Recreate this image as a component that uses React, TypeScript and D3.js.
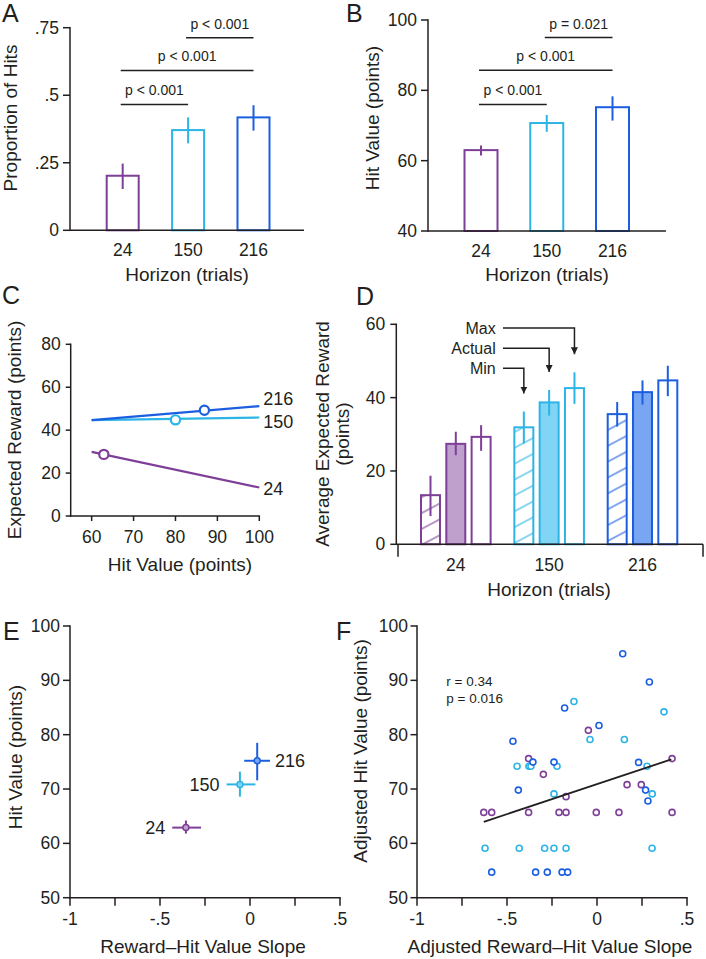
import React from "react";
import * as d3 from "d3";

const FONT = "'Liberation Sans', Arial, Helvetica, sans-serif";
const INK = "#231f20";

// ---------- shared categories ----------
const horizons = ["24", "150", "216"];
const horizonStroke = ["#7e3f98", "#2cb4e6", "#1b5fe0"];
const horizonFill = ["#bf9fcc", "#80d4f4", "#79a6f2"];

// ---------- Panel A ----------
const propHits = [0.202, 0.371, 0.418];
const propHitsLo = [0.153, 0.322, 0.369];
const propHitsHi = [0.247, 0.418, 0.463];
const propTicks = [0, 0.25, 0.5, 0.75];
const propTickLabels = ["0", ".25", ".5", ".75"];
const sigAFrom = ["24", "24", "150"];
const sigATo = ["150", "216", "216"];
const sigALevel = [0.466, 0.592, 0.713];
const sigALabel = ["p < 0.001", "p < 0.001", "p < 0.001"];

// ---------- Panel B ----------
const hitValue = [63.0, 70.7, 75.2];
const hitValueLo = [61.5, 68.2, 71.4];
const hitValueHi = [64.3, 73.0, 78.3];
const hitValueTicks = [40, 60, 80, 100];
const sigBFrom = ["24", "24", "150"];
const sigBTo = ["150", "216", "216"];
const sigBLevel = [76.0, 85.7, 95.0];
const sigBLabel = ["p < 0.001", "p < 0.001", "p = 0.021"];

// ---------- Panel C ----------
const cLineX0 = [60, 60, 60];
const cLineX1 = [100, 100, 100];
const cLineY0 = [29.9, 44.7, 44.7];
const cLineY1 = [13.3, 45.9, 51.2];
const cPointX = [62.9, 80.0, 86.9];
const cPointY = [28.7, 44.8, 49.3];
const cXTicks = [60, 70, 80, 90, 100];
const cYTicks = [0, 20, 40, 60, 80];

// ---------- Panel D ----------
const rewardTypes = ["Min", "Actual", "Max"];
const rewardMin = [13.4, 31.9, 35.5];
const rewardMinLo = [7.7, 27.5, 32.1];
const rewardMinHi = [18.7, 36.2, 38.8];
const rewardActual = [27.4, 38.7, 41.5];
const rewardActualLo = [24.3, 35.1, 38.1];
const rewardActualHi = [30.7, 42.1, 44.7];
const rewardMax = [29.3, 42.6, 44.7];
const rewardMaxLo = [25.5, 38.3, 40.4];
const rewardMaxHi = [32.5, 46.9, 48.7];
const dYTicks = [0, 20, 40, 60];
const annotLevel = [48.0, 53.5, 59.0]; // Min, Actual, Max callout levels
const annotHorizon = "150";

// ---------- Panel E ----------
const eSlope = [-0.356, -0.056, 0.04];
const eSlopeLo = [-0.432, -0.13, -0.032];
const eSlopeHi = [-0.272, 0.03, 0.111];
const eHit = [62.9, 70.85, 75.2];
const eHitLo = [61.8, 68.6, 71.6];
const eHitHi = [64.2, 73.2, 78.5];
const slopeTicks = [-1, -0.75, -0.5, -0.25, 0, 0.25, 0.5];
const slopeTickLabels = ["-1", "", "-.5", "", "0", "", ".5"];
const hvTicks = [50, 60, 70, 80, 90, 100];

// ---------- Panel F ----------
const f24X = [-0.048, -0.38, 0.417, -0.298, 0.167, 0.246, -0.172, -0.629, -0.585, -0.38, -0.211, -0.172, -0.004, 0.122, 0.417];
const f24Y = [80.8, 75.6, 75.6, 72.7, 70.8, 70.8, 68.6, 65.7, 65.7, 65.7, 65.7, 65.7, 65.7, 65.7, 65.7];
const f150X = [-0.128, 0.372, -0.039, 0.152, -0.444, -0.378, -0.367, -0.222, 0.278, -0.239, 0.307, -0.622, -0.432, -0.291, -0.239, -0.172, 0.306];
const f150Y = [86.1, 84.2, 79.1, 79.1, 74.2, 74.2, 74.2, 74.2, 74.2, 69.1, 69.1, 59.1, 59.1, 59.1, 59.1, 59.1, 59.1];
const f216X = [0.143, 0.291, -0.18, 0.011, -0.467, -0.356, -0.239, 0.231, -0.437, 0.27, 0.283, -0.585, -0.341, -0.276, -0.194, -0.163];
const f216Y = [94.9, 89.7, 84.9, 81.7, 78.8, 74.95, 74.95, 74.9, 69.8, 69.8, 67.8, 54.7, 54.7, 54.7, 54.7, 54.7];
const fitIntercept = 70.9;
const fitSlope = 11.03;
const fitRange = [-0.629, 0.413];
const fitStats = ["r = 0.34", "p = 0.016"];

// ---------- helpers ----------
const TICK_FS = 17.5;
const TITLE_FS = 19;

function VAxis({ x, y, ticks, labels, len, gap }: any) {
  const [r0, r1] = y.range();
  return (
    <g>
      <line x1={x} x2={x} y1={r0} y2={r1} stroke={INK} strokeWidth={1.5} strokeLinecap="square" />
      {ticks.map((t: number, i: number) => (
        <g key={i}>
          <line x1={x - len} x2={x} y1={y(t)} y2={y(t)} stroke={INK} strokeWidth={1.5} />
          <text x={x - len - gap} y={y(t)} dy="0.35em" textAnchor="end" fontSize={TICK_FS} fill={INK}>
            {labels ? labels[i] : String(t)}
          </text>
        </g>
      ))}
    </g>
  );
}

function HAxisNum({ y, x, ticks, labels, len, labelY, x0, x1 }: any) {
  const [r0, r1] = x.range();
  return (
    <g>
      <line x1={x0 ?? r0} x2={x1 ?? r1} y1={y} y2={y} stroke={INK} strokeWidth={1.5} strokeLinecap="square" />
      {ticks.map((t: number, i: number) => (
        <g key={i}>
          <line x1={x(t)} x2={x(t)} y1={y} y2={y + len} stroke={INK} strokeWidth={1.5} />
          <text x={x(t)} y={labelY} textAnchor="middle" fontSize={TICK_FS} fill={INK}>
            {labels ? labels[i] : String(t)}
          </text>
        </g>
      ))}
    </g>
  );
}

function VTitle({ x, y, lines }: any) {
  return (
    <g>
      {lines.map((l: string, i: number) => (
        <text key={i} transform={`translate(${x + i * 20},${y}) rotate(-90)`} textAnchor="middle" fontSize={TITLE_FS} fill={INK}>
          {l}
        </text>
      ))}
    </g>
  );
}

function Letter({ x, y, t }: any) {
  return (
    <text x={x} y={y} fontSize={25} fill={INK}>
      {t}
    </text>
  );
}

function BarPanel({ xs, ys, vals, lo, hi, sigFrom, sigTo, sigLevel, sigLabel, axisX0, axisX1, yTicks, yLabels, barW }: any) {
  const base = ys.range()[0];
  return (
    <g>
      {horizons.map((h, i) => (
        <g key={h}>
          <rect x={xs(h) - barW / 2} y={ys(vals[i])} width={barW} height={base - ys(vals[i])} fill="white" stroke={horizonStroke[i]} strokeWidth={2} />
          <line x1={xs(h)} x2={xs(h)} y1={ys(hi[i])} y2={ys(lo[i])} stroke={horizonStroke[i]} strokeWidth={2} />
        </g>
      ))}
      <VAxis x={axisX0} y={ys} ticks={yTicks} labels={yLabels} len={7} gap={4} />
      <line x1={axisX0} x2={axisX1} y1={base} y2={base} stroke={INK} strokeWidth={1.5} />
      {horizons.map((h) => (
        <text key={h} x={xs(h)} y={base + 26} textAnchor="middle" fontSize={TICK_FS} fill={INK}>
          {h}
        </text>
      ))}
      {sigFrom.map((f: string, i: number) => {
        const xa = xs(f) - 2;
        const xb = xs(sigTo[i]);
        const yy = ys(sigLevel[i]);
        return (
          <g key={i}>
            <line x1={xa} x2={xb} y1={yy} y2={yy} stroke={INK} strokeWidth={1.5} />
            <text x={(xa + xb) / 2} y={yy - 9} textAnchor="middle" fontSize={14} fill={INK}>
              {sigLabel[i]}
            </text>
          </g>
        );
      })}
    </g>
  );
}

export default function App() {
  // Panel A
  const yA = d3.scaleLinear().domain([0, 0.75]).range([230.3, 27.7]);
  const xA = d3.scalePoint<string>().domain(horizons).range([122.7, 253.5]);
  // Panel B
  const yB = d3.scaleLinear().domain([40, 100]).range([231, 20]);
  const xB = d3.scalePoint<string>().domain(horizons).range([481, 612.5]);
  // Panel C
  const yC = d3.scaleLinear().domain([0, 80]).range([516, 344.3]);
  const xC = d3.scaleLinear().domain([55, 100]).range([70.7, 259.3]);
  // Panel D
  const yD = d3.scaleLinear().domain([0, 60]).range([544.3, 324.3]);
  const xD = d3.scalePoint<string>().domain(horizons).range([455.8, 642.5]);
  const xDin = d3.scaleBand<string>().domain(rewardTypes).range([-34.8, 34.8]).paddingInner(0.25);
  const bwD = xDin.bandwidth();
  // Panel E/F
  const yE = d3.scaleLinear().domain([50, 100]).range([897.7, 626]);
  const xE = d3.scaleLinear().domain([-1, 0.5]).range([70, 340]);
  const yF = d3.scaleLinear().domain([50, 100]).range([897.7, 626]);
  const xF = d3.scaleLinear().domain([-1, 0.5]).range([417, 687]);

  const dSeries = [
    { type: "Min", v: rewardMin, lo: rewardMinLo, hi: rewardMinHi },
    { type: "Actual", v: rewardActual, lo: rewardActualLo, hi: rewardActualHi },
    { type: "Max", v: rewardMax, lo: rewardMaxLo, hi: rewardMaxHi },
  ];

  const cLabelDy = [7.7, 10.7, -1];
  const fSets = [
    { xs: f24X, ys: f24Y, i: 0 },
    { xs: f150X, ys: f150Y, i: 1 },
    { xs: f216X, ys: f216Y, i: 2 },
  ];
  const fitLine = d3.line<number>().x((d) => xF(d)).y((d) => yF(fitIntercept + fitSlope * d));

  return (
    <svg width={706} height={959} style={{ position: "absolute", left: 0, top: 0, background: "white" }} fontFamily={FONT}>
      <defs>
        {horizonStroke.map((c, i) => (
          <pattern key={i} id={`hatch${i}`} patternUnits="userSpaceOnUse" width={14} height={14} patternTransform="rotate(-28)">
            <rect width={14} height={14} fill="white" />
            <line x1={0} x2={14} y1={7} y2={7} stroke={c} strokeWidth={1.1} />
          </pattern>
        ))}
        <marker id="arrowHead" viewBox="0 0 10 10" refX={10} refY={5} markerWidth={7} markerHeight={7} markerUnits="userSpaceOnUse" orient="auto">
          <path d="M0,0 L10,5 L0,10 z" fill={INK} />
        </marker>
      </defs>
      <rect width={706} height={959} fill="white" />

      {/* ---------- A ---------- */}
      <Letter x={2} y={21.7} t="A" />
      <BarPanel xs={xA} ys={yA} vals={propHits} lo={propHitsLo} hi={propHitsHi} sigFrom={sigAFrom} sigTo={sigATo} sigLevel={sigALevel} sigLabel={sigALabel} axisX0={70} axisX1={304} yTicks={propTicks} yLabels={propTickLabels} barW={32} />
      <text x={187} y={281} textAnchor="middle" fontSize={TITLE_FS} fill={INK}>Horizon (trials)</text>
      <VTitle x={16.5} y={118} lines={["Proportion of Hits"]} />

      {/* ---------- B ---------- */}
      <Letter x={346} y={21.7} t="B" />
      <BarPanel xs={xB} ys={yB} vals={hitValue} lo={hitValueLo} hi={hitValueHi} sigFrom={sigBFrom} sigTo={sigBTo} sigLevel={sigBLevel} sigLabel={sigBLabel} axisX0={428} axisX1={666} yTicks={hitValueTicks} barW={33} />
      <text x={547} y={281} textAnchor="middle" fontSize={TITLE_FS} fill={INK}>Horizon (trials)</text>
      <VTitle x={378.5} y={118} lines={["Hit Value (points)"]} />

      {/* ---------- C ---------- */}
      <Letter x={2} y={304} t="C" />
      {horizons.map((h, i) => (
        <line key={h} x1={xC(cLineX0[i])} x2={xC(cLineX1[i])} y1={yC(cLineY0[i])} y2={yC(cLineY1[i])} stroke={horizonStroke[i]} strokeWidth={2.2} />
      ))}
      {horizons.map((h, i) => (
        <circle key={h} cx={xC(cPointX[i])} cy={yC(cPointY[i])} r={4.6} fill="white" stroke={horizonStroke[i]} strokeWidth={2.2} />
      ))}
      {horizons.map((h, i) => (
        <text key={h} x={xC(100) + 4} y={yC(cLineY1[i]) + cLabelDy[i]} fontSize={18} fill={INK}>{h}</text>
      ))}
      <VAxis x={70.7} y={yC} ticks={cYTicks} len={5} gap={5} />
      <HAxisNum y={516} x={xC} ticks={cXTicks} len={5} labelY={543.3} />
      <text x={180} y={570.7} textAnchor="middle" fontSize={TITLE_FS} fill={INK}>Hit Value (points)</text>
      <VTitle x={20.7} y={430} lines={["Expected Reward (points)"]} />

      {/* ---------- D ---------- */}
      <Letter x={356} y={305} t="D" />
      {horizons.map((h, gi) =>
        dSeries.map((s) => {
          const cx = (xD(h) as number) + (xDin(s.type) as number) + bwD / 2;
          const fill = s.type === "Min" ? `url(#hatch${gi})` : s.type === "Actual" ? horizonFill[gi] : "white";
          return (
            <g key={h + s.type}>
              <rect x={cx - bwD / 2} y={yD(s.v[gi])} width={bwD} height={yD(0) - yD(s.v[gi])} fill={fill} stroke={horizonStroke[gi]} strokeWidth={2} />
              <line x1={cx} x2={cx} y1={yD(s.hi[gi])} y2={yD(s.lo[gi])} stroke={horizonStroke[gi]} strokeWidth={2} />
            </g>
          );
        })
      )}
      <VAxis x={396.3} y={yD} ticks={dYTicks} len={6} gap={5} />
      <line x1={396.3} x2={703} y1={544.3} y2={544.3} stroke={INK} strokeWidth={1.5} />
      <line x1={398} x2={398} y1={544.3} y2={556.7} stroke={INK} strokeWidth={1.5} />
      <line x1={703} x2={703} y1={544.3} y2={556.7} stroke={INK} strokeWidth={1.5} />
      {horizons.map((h) => (
        <text key={h} x={xD(h)} y={570.7} textAnchor="middle" fontSize={TICK_FS} fill={INK}>{h}</text>
      ))}
      {dSeries.map((s, k) => {
        const gi = horizons.indexOf(annotHorizon);
        const cx = (xD(annotHorizon) as number) + (xDin(s.type) as number) + bwD / 2;
        const ly = yD(annotLevel[k]);
        const tip = yD(s.hi[gi]) - 18;
        return (
          <g key={s.type}>
            <path d={`M503,${ly} H${cx} V${tip}`} fill="none" stroke={INK} strokeWidth={1.5} markerEnd="url(#arrowHead)" />
            <text x={495.7} y={ly} dy="0.35em" textAnchor="end" fontSize={16} fill={INK}>{s.type}</text>
          </g>
        );
      })}
      <text x={549} y={596} textAnchor="middle" fontSize={TITLE_FS} fill={INK}>Horizon (trials)</text>
      <VTitle x={329.3} y={434} lines={["Average Expected Reward", "(points)"]} />

      {/* ---------- E ---------- */}
      <Letter x={3} y={640} t="E" />
      <VAxis x={70} y={yE} ticks={hvTicks} len={7} gap={3} />
      <HAxisNum y={897.7} x={xE} ticks={slopeTicks} labels={slopeTickLabels} len={8} labelY={925} />
      {horizons.map((h, i) => (
        <g key={h}>
          <line x1={xE(eSlopeLo[i])} x2={xE(eSlopeHi[i])} y1={yE(eHit[i])} y2={yE(eHit[i])} stroke={horizonStroke[i]} strokeWidth={2} />
          <line x1={xE(eSlope[i])} x2={xE(eSlope[i])} y1={yE(eHitHi[i])} y2={yE(eHitLo[i])} stroke={horizonStroke[i]} strokeWidth={2} />
          <circle cx={xE(eSlope[i])} cy={yE(eHit[i])} r={3} fill={horizonFill[i]} stroke={horizonStroke[i]} strokeWidth={1.5} />
          {i === 2 ? (
            <text x={xE(eSlopeHi[i]) + 5} y={yE(eHit[i])} dy="0.35em" fontSize={18} fill={INK}>{h}</text>
          ) : (
            <text x={xE(eSlopeLo[i]) - 7} y={yE(eHit[i])} dy="0.35em" textAnchor="end" fontSize={18} fill={INK}>{h}</text>
          )}
        </g>
      ))}
      <text x={203} y={953} textAnchor="middle" fontSize={TITLE_FS} fill={INK}>Reward–Hit Value Slope</text>
      <VTitle x={22.3} y={757} lines={["Hit Value (points)"]} />

      {/* ---------- F ---------- */}
      <Letter x={336} y={640} t="F" />
      <VAxis x={417} y={yF} ticks={hvTicks} len={6.5} gap={2.5} />
      <HAxisNum y={897.7} x={xF} ticks={slopeTicks} labels={slopeTickLabels} len={8} labelY={925} />
      {fSets.map((s) =>
        s.xs.map((xv, j) => (
          <circle key={s.i + "-" + j} cx={xF(xv)} cy={yF(s.ys[j])} r={3} fill="white" stroke={horizonStroke[s.i]} strokeWidth={1.6} />
        ))
      )}
      <path d={fitLine(fitRange) || ""} fill="none" stroke={INK} strokeWidth={1.8} />
      <text x={446.3} y={685.7} fontSize={13.5} fill={INK}>{fitStats[0]}</text>
      <text x={446.3} y={703.3} fontSize={13.5} fill={INK}>{fitStats[1]}</text>
      <text x={550} y={953} textAnchor="middle" fontSize={TITLE_FS} fill={INK}>Adjusted Reward–Hit Value Slope</text>
      <VTitle x={367} y={751} lines={["Adjusted Hit Value (points)"]} />
    </svg>
  );
}
